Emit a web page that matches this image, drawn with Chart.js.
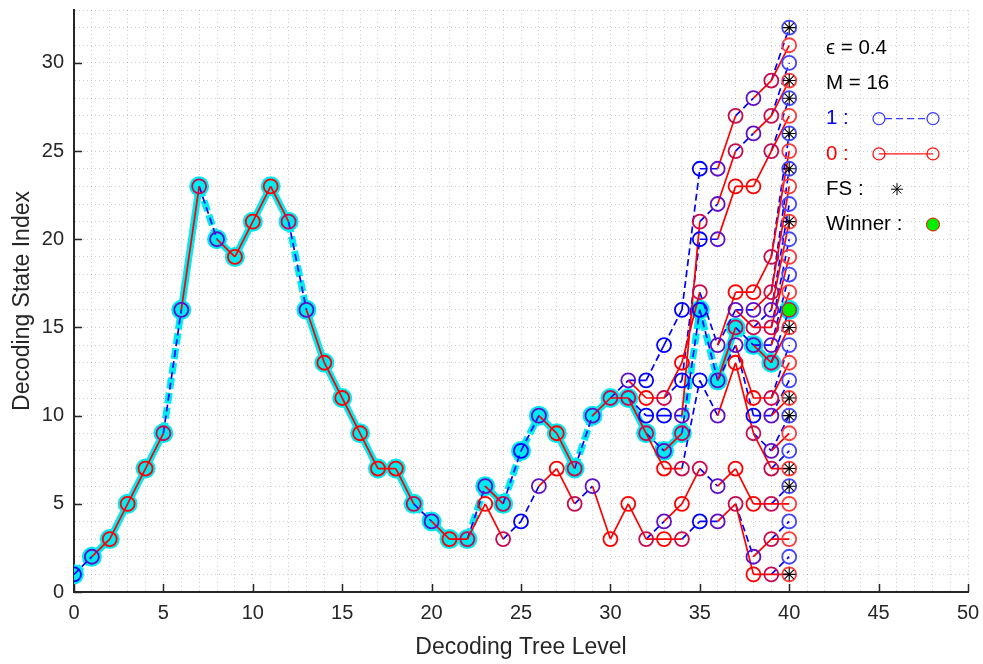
<!DOCTYPE html>
<html>
<head>
<meta charset="utf-8">
<script src="https://cdn.jsdelivr.net/npm/chart.js@4.4.1/dist/chart.umd.min.js"></script>
<style>
  html, body { margin: 0; padding: 0; background: #fff; }
  #wrap { width: 983px; height: 664px; }
</style>
</head>
<body>
<div id="wrap"><canvas id="tree"></canvas></div>
<script>
// winning survivor path: state index at tree levels 0..39, and the bit taken on each step
const bestPath = [1, 2, 3, 5, 7, 9, 16, 23, 20, 19, 21, 23, 21, 16, 13, 11, 9, 7, 7, 5, 4,
  3, 3, 6, 5, 8, 10, 9, 7, 10, 11, 11, 9, 8, 9, 16, 12, 15, 14, 13]
const bestBits = [1, 0, 0, 0, 0, 1, 0, 1, 0, 0, 0, 0, 1, 0, 0, 0, 0, 0, 0, 1, 0,
  0, 1, 0, 1, 1, 0, 0, 1, 0, 0, 0, 1, 0, 1, 1, 0, 1, 0]

// other branches of the tree: [level, state, next state]
const oneEdges = [
  [24, 3, 4], [25, 4, 6], [28, 5, 6],
  [30, 11, 12], [31, 12, 12], [31, 11, 10],
  [32, 12, 14], [32, 10, 10], [32, 3, 4],
  [33, 14, 16], [33, 11, 12], [33, 10, 10],
  [34, 16, 24], [34, 12, 20], [34, 7, 12], [34, 3, 4],
  [35, 24, 24], [35, 21, 22], [35, 20, 20], [35, 17, 14], [35, 12, 10], [35, 7, 6], [35, 4, 4],
  [36, 14, 16], [36, 12, 14],
  [37, 27, 28], [37, 25, 26], [37, 16, 16], [37, 14, 10], [37, 5, 2],
  [38, 15, 16], [38, 14, 14], [38, 10, 10], [38, 9, 8],
  [39, 1, 2], [39, 3, 4], [39, 5, 6], [39, 7, 8], [39, 8, 10], [39, 10, 12], [39, 11, 14], [39, 13, 16],
  [39, 14, 18], [39, 15, 20], [39, 16, 22], [39, 17, 24], [39, 19, 26], [39, 25, 28], [39, 27, 30], [39, 29, 32]
]
const zeroEdges = [
  [22, 3, 5], [23, 5, 3], [26, 6, 7], [27, 7, 5], [29, 6, 3], [30, 3, 5], [31, 5, 3],
  [31, 12, 11], [32, 11, 11], [32, 9, 7], [32, 3, 3],
  [33, 11, 13], [33, 7, 7], [33, 4, 5], [33, 3, 3],
  [34, 13, 17], [34, 10, 21], [34, 5, 7],
  [36, 24, 27], [36, 22, 25], [36, 20, 23], [36, 14, 17], [36, 10, 13], [36, 6, 7], [36, 4, 5],
  [37, 23, 23], [37, 17, 17], [37, 16, 15], [37, 14, 11], [37, 13, 9], [37, 7, 5], [37, 5, 1],
  [38, 28, 29], [38, 26, 27], [38, 23, 25], [38, 17, 19], [38, 16, 17], [38, 15, 15], [38, 11, 11],
  [38, 9, 7], [38, 5, 5], [38, 2, 3], [38, 1, 1],
  [39, 1, 1], [39, 3, 3], [39, 5, 5], [39, 7, 7], [39, 8, 9], [39, 10, 11], [39, 11, 13], [39, 13, 15],
  [39, 14, 17], [39, 15, 19], [39, 16, 21], [39, 17, 23], [39, 19, 25], [39, 25, 27], [39, 27, 29], [39, 29, 31]
]

const finalLevel = 40
const finalStates = [1, 6, 7, 10, 11, 15, 21, 24, 26, 28, 29, 32]
const winnerState = 16

const xLabels = [0, 5, 10, 15, 20, 25, 30, 35, 40, 45, 50]
const yLabels = [0, 5, 10, 15, 20, 25, 30]
const infoLines = ['ϵ = 0.4', 'M = 16']

const FONT = "'Liberation Sans', Arial, sans-serif"
const CYAN = 'rgb(0, 235, 240)'

// the winning path is part of the tree too
const allOnes = oneEdges.slice()
const allZeros = zeroEdges.slice()
bestBits.forEach((b, i) => {
  (b ? allOnes : allZeros).push([i, bestPath[i], bestPath[i + 1]])
})

const toLine = edges => {
  const pts = []
  edges.forEach(([x, a, b]) => {
    pts.push({ x: x, y: a }, { x: x + 1, y: b }, { x: x + 1, y: null })
  })
  return pts
}

// node ring colour depends on which kinds of branch meet there
const nodes = new Map()
const mark = (x, y, key) => {
  const k = x + ',' + y
  const n = nodes.get(k) || { x: x, y: y }
  n[key] = true
  nodes.set(k, n)
}
allOnes.forEach(([x, a, b]) => { mark(x, a, 'outBlue'); mark(x + 1, b, 'inBlue') })
allZeros.forEach(([x, a, b]) => { mark(x, a, 'outRed'); mark(x + 1, b, 'inRed') })
const nodePts = [...nodes.values()]
const nodeColors = nodePts.map(n => {
  const leaf = n.x === finalLevel
  if (n.inBlue && (n.outRed || n.inRed)) return 'rgb(95, 15, 200)'
  if (n.inRed && n.outBlue) return 'rgb(200, 10, 80)'
  if (n.inBlue || n.outBlue) return leaf ? 'rgb(70, 70, 255)' : 'rgb(0, 0, 255)'
  return leaf ? 'rgb(255, 60, 60)' : 'rgb(255, 0, 0)'
})

const insideTicks = {
  id: 'insideTicks',
  afterDraw(chart) {
    const { ctx, chartArea, scales } = chart
    ctx.save()
    ctx.strokeStyle = '#262626'
    ctx.lineWidth = 1.5
    ctx.beginPath()
    xLabels.forEach(v => {
      const px = Math.round(scales.x.getPixelForValue(v)) + 0.5
      ctx.moveTo(px, chartArea.bottom)
      ctx.lineTo(px, chartArea.bottom - 8)
    })
    yLabels.forEach(v => {
      const py = Math.round(scales.y.getPixelForValue(v)) + 0.5
      ctx.moveTo(chartArea.left, py)
      ctx.lineTo(chartArea.left + 8, py)
    })
    ctx.stroke()
    ctx.restore()
  }
}

const infoBox = {
  id: 'infoBox',
  afterDraw(chart) {
    const { ctx, chartArea } = chart
    const x0 = chartArea.right - 142
    const m1 = chartArea.right - 89
    const m2 = chartArea.right - 35
    const row = i => chartArea.top + 38 + i * 35.3
    ctx.save()
    ctx.font = '20.5px ' + FONT
    ctx.textBaseline = 'middle'
    ctx.textAlign = 'left'
    ctx.fillStyle = '#000'
    infoLines.forEach((t, i) => ctx.fillText(t, x0, row(i)))

    ctx.fillStyle = '#0000ff'
    ctx.fillText('1 :', x0, row(2))
    ctx.fillStyle = '#ff0000'
    ctx.fillText('0 :', x0, row(3))
    ctx.fillStyle = '#000'
    ctx.fillText('FS :', x0, row(4))
    ctx.fillText('Winner :', x0, row(5))

    ctx.lineWidth = 1.3
    // bit 1 sample
    ctx.strokeStyle = 'rgb(60, 60, 255)'
    ctx.setLineDash([7, 4])
    ctx.beginPath(); ctx.moveTo(m1 + 6, row(2)); ctx.lineTo(m2 - 6, row(2)); ctx.stroke()
    ctx.setLineDash([])
    ;[m1, m2].forEach(mx => { ctx.beginPath(); ctx.arc(mx, row(2), 6, 0, Math.PI * 2); ctx.stroke() })
    // bit 0 sample
    ctx.strokeStyle = 'rgb(255, 20, 20)'
    ctx.beginPath(); ctx.moveTo(m1, row(3)); ctx.lineTo(m2, row(3)); ctx.stroke()
    ;[m1, m2].forEach(mx => { ctx.beginPath(); ctx.arc(mx, row(3), 6, 0, Math.PI * 2); ctx.stroke() })
    // final state star
    const sx = chartArea.right - 71, sy = row(4), r = 6
    ctx.strokeStyle = '#000'
    ctx.lineWidth = 1
    ctx.beginPath()
    for (let k = 0; k < 4; k++) {
      const a = k * Math.PI / 4
      ctx.moveTo(sx - r * Math.cos(a), sy - r * Math.sin(a))
      ctx.lineTo(sx + r * Math.cos(a), sy + r * Math.sin(a))
    }
    ctx.stroke()
    // winner
    ctx.fillStyle = '#00ee00'
    ctx.strokeStyle = '#ff0000'
    ctx.beginPath(); ctx.arc(m2, row(5), 6.5, 0, Math.PI * 2); ctx.fill(); ctx.stroke()
    ctx.restore()
  }
}

new Chart(document.getElementById('tree'), {
  type: 'scatter',
  data: {
    datasets: [
      {
        label: 'winner path',
        data: bestPath.map((y, i) => ({ x: i, y: y })),
        showLine: true,
        borderColor: CYAN,
        borderWidth: 7,
        pointRadius: 10,
        pointBackgroundColor: CYAN,
        pointBorderWidth: 0,
        segment: {
          borderDash: ctx => bestBits[ctx.p0DataIndex] ? [11, 4] : undefined
        },
        order: 7
      },
      {
        label: 'winner halo',
        data: [{ x: finalLevel, y: winnerState }],
        pointRadius: 10,
        pointBackgroundColor: CYAN,
        pointBorderWidth: 0,
        order: 6
      },
      {
        label: '1',
        data: toLine(allOnes),
        showLine: true,
        spanGaps: false,
        borderColor: 'rgb(0, 0, 255)',
        borderWidth: 1.7,
        borderDash: [7, 4],
        pointRadius: 0,
        order: 5
      },
      {
        label: '0',
        data: toLine(allZeros),
        showLine: true,
        spanGaps: false,
        borderColor: 'rgb(255, 0, 0)',
        borderWidth: 1.7,
        pointRadius: 0,
        order: 4
      },
      {
        label: 'nodes',
        data: nodePts.map(n => ({ x: n.x, y: n.y })),
        pointRadius: 7,
        pointBorderWidth: 1.8,
        pointBorderColor: nodeColors,
        pointBackgroundColor: 'rgba(0,0,0,0)',
        order: 3
      },
      {
        label: 'FS',
        data: finalStates.map(y => ({ x: finalLevel, y: y })),
        pointStyle: 'star',
        pointRadius: 6.5,
        pointBorderWidth: 1.1,
        pointBorderColor: '#000',
        order: 2
      },
      {
        label: 'Winner',
        data: [{ x: finalLevel, y: winnerState }],
        pointRadius: 7,
        pointBorderWidth: 1,
        pointBorderColor: '#ff0000',
        pointBackgroundColor: '#00ee00',
        order: 1
      }
    ]
  },
  options: {
    responsive: true,
    maintainAspectRatio: false,
    animation: false,
    layout: { padding: { left: 0, right: 15, top: 6, bottom: 0 } },
    plugins: {
      legend: { display: false },
      tooltip: { enabled: false }
    },
    scales: {
      x: {
        type: 'linear',
        min: 0,
        max: 50,
        afterFit: s => { s.height = 72; s.paddingLeft = 0; s.paddingRight = 0 },
        ticks: {
          stepSize: 1,
          autoSkip: false,
          maxRotation: 0,
          padding: 9,
          color: '#262626',
          font: { family: FONT, size: 20 },
          callback: v => xLabels.includes(v) ? String(v) : ''
        },
        grid: { color: 'rgba(0,0,0,0.2)', drawTicks: false },
        border: { color: '#262626', width: 2, dash: [1, 3] },
        title: {
          display: true,
          text: 'Decoding Tree Level',
          color: '#262626',
          font: { family: FONT, size: 23 },
          padding: { bottom: 3 }
        }
      },
      y: {
        type: 'linear',
        min: 0,
        max: 33,
        afterFit: s => { s.width = 74; s.paddingTop = 0; s.paddingBottom = 0 },
        ticks: {
          stepSize: 1,
          autoSkip: false,
          padding: 10,
          color: '#262626',
          font: { family: FONT, size: 20 },
          callback: v => yLabels.includes(v) ? String(v) : ''
        },
        grid: { color: 'rgba(0,0,0,0.2)', drawTicks: false },
        border: { color: '#262626', width: 2, dash: [1, 3] },
        title: {
          display: true,
          text: 'Decoding State Index',
          color: '#262626',
          font: { family: FONT, size: 23 },
          padding: { top: 9 }
        }
      }
    }
  },
  plugins: [insideTicks, infoBox]
})
</script>
</body>
</html>
